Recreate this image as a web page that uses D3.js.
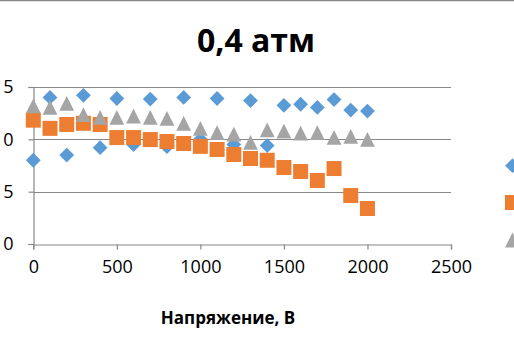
<!DOCTYPE html>
<html>
<head>
<meta charset="utf-8">
<script src="https://cdn.jsdelivr.net/npm/d3@7"></script>
<style>
  html, body { margin: 0; padding: 0; background: #fff; overflow: hidden; }
  svg { display: block; }
</style>
</head>
<body>
<svg id="chart" width="514" height="343"></svg>
<script>
// Voltage steps, V
const voltages = [0, 100, 200, 300, 400, 500, 600, 700, 800, 900, 1000,
                  1100, 1200, 1300, 1400, 1500, 1600, 1700, 1800, 1900, 2000];

// Three measured series
const seriesBlue   = [8.0, 14.0, 8.5, 14.2, 9.2, 13.9, 9.5, 13.85, 9.3, 14.0, 10.0,
                      13.9, 9.5, 13.7, 9.4, 13.25, 13.35, 13.05, 13.8, 12.8, 12.7];
const seriesOrange = [11.83, 11.05, 11.42, 11.53, 11.42, 10.17, 10.17, 9.98, 9.79, 9.6, 9.33,
                      9.03, 8.55, 8.17, 8.0, 7.31, 6.93, 6.07, 7.21, 4.63, 3.39];
const seriesGray   = [13.2, 13.06, 13.44, 12.36, 12.1, 12.1, 12.23, 12.1, 12.0, 11.53, 11.05,
                      10.65, 10.5, 9.7, 10.9, 10.78, 10.59, 10.65, 10.19, 10.29, 10.0];

const xTicks = [0, 500, 1000, 1500, 2000, 2500];
const yTicks = [0, 5, 10, 15];

const titleText = "0,4 атм";
const xTitleText = "Напряжение, В";

const svg = d3.select("#chart");
const font = "'Open Sans', 'Noto Sans', sans-serif";
const axisColor = "#888888";

// top frame line
svg.append("line")
  .attr("x1", 0).attr("x2", 514).attr("y1", 0.5).attr("y2", 0.5)
  .attr("stroke", axisColor).attr("stroke-width", 1.5);

const x = d3.scaleLinear().domain([0, 2500]).range([33.3, 451]);
const y = d3.scaleLinear().domain([0, 15]).range([244, 87]);

// horizontal gridlines
svg.append("g").selectAll("line")
  .data(yTicks.filter(d => d > 0))
  .join("line")
  .attr("x1", x(0)).attr("x2", x(2500))
  .attr("y1", d => Math.round(y(d)) + 0.5).attr("y2", d => Math.round(y(d)) + 0.5)
  .attr("stroke", axisColor).attr("stroke-width", 1.2);

// x axis
const xAxis = svg.append("g")
  .attr("transform", `translate(0,${Math.round(y(0)) + 0.5})`)
  .call(d3.axisBottom(x).tickValues(xTicks).tickSize(5).tickPadding(11).tickFormat(d3.format("d")));
xAxis.select(".domain").attr("stroke", axisColor).attr("stroke-width", 1.2);
xAxis.selectAll(".tick line").attr("stroke", axisColor).attr("stroke-width", 1.2);
xAxis.selectAll("text").attr("font-family", font).attr("font-size", 18).attr("fill", "#000");

// y axis
const yAxis = svg.append("g")
  .attr("transform", `translate(${Math.round(x(0)) + 0.5},0)`)
  .call(d3.axisLeft(y).tickValues(yTicks).tickSize(5).tickPadding(15).tickFormat(d3.format("d")));
yAxis.select(".domain").attr("stroke", axisColor).attr("stroke-width", 1.2);
yAxis.selectAll(".tick line").attr("stroke", axisColor).attr("stroke-width", 1.2);
yAxis.selectAll("text").attr("font-family", font).attr("font-size", 18).attr("fill", "#000");

// marker shapes
const diamond = s => `M0,${-s}L${s},0L0,${s}L${-s},0Z`;
const square = s => `M${-s},${-s}H${s}V${s}H${-s}Z`;
const triangle = s => `M0,${-s}L${s},${s}L${-s},${s}Z`;

const series = [
  { name: "blue", values: seriesBlue, color: "#5B9BD5", path: diamond(7.4) },
  { name: "orange", values: seriesOrange, color: "#ED7D31", path: square(7.5) },
  { name: "gray", values: seriesGray, color: "#A5A5A5", path: triangle(7.4) }
];

series.forEach(s => {
  svg.append("g").selectAll("path")
    .data(voltages.map((v, i) => [v, s.values[i]]))
    .join("path")
    .attr("transform", d => `translate(${x(d[0])},${y(d[1])})`)
    .attr("d", s.path)
    .attr("fill", s.color);
});

// legend markers (right side)
const legendY = [165.7, 202.5, 240];
svg.append("g").selectAll("path")
  .data(series)
  .join("path")
  .attr("transform", (d, i) => `translate(512.5,${legendY[i]})`)
  .attr("d", d => d.path)
  .attr("fill", d => d.color);

// title
svg.append("text")
  .attr("x", 256).attr("y", 52)
  .attr("text-anchor", "middle")
  .attr("font-family", font).attr("font-weight", "bold").attr("font-size", 32)
  .attr("fill", "#000")
  .text(titleText);

// x axis title
svg.append("text")
  .attr("x", 228).attr("y", 324)
  .attr("text-anchor", "middle")
  .attr("font-family", font).attr("font-weight", "bold").attr("font-size", 17)
  .attr("fill", "#000")
  .text(xTitleText);
</script>
</body>
</html>
